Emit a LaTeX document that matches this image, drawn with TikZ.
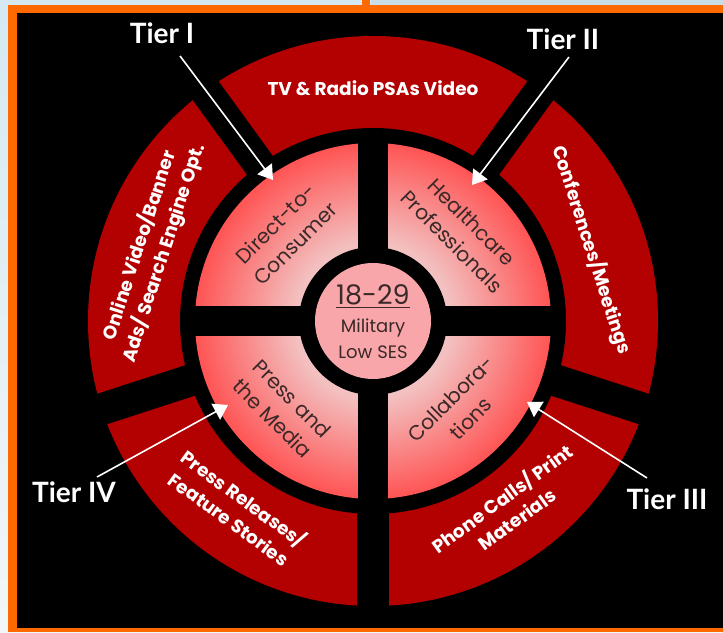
\documentclass[tikz,border=0pt]{standalone}
\usepackage{fontspec}
\setmainfont{Poppins}
\newfontfamily\tierfont{Lato}
\usetikzlibrary{arrows.meta}
\definecolor{ringred}{HTML}{B30000}
\definecolor{quadin}{HTML}{F4D2D2}
\definecolor{quadmid}{HTML}{F3C0C0}
\definecolor{quadout}{HTML}{FF5454}
\definecolor{centerpink}{HTML}{F8A6A9}
\definecolor{quadtext}{HTML}{3B2828}
\definecolor{frameorange}{HTML}{FF6A00}
\definecolor{bgtop}{HTML}{D4E9F2}
\definecolor{bgbot}{HTML}{F2F6F8}
\definecolor{bgright}{HTML}{C9DDE7}
\pgfdeclareradialshading{quadshade}{\pgfpoint{0bp}{0bp}}{color(0bp)=(quadin); color(11bp)=(quadmid); color(25bp)=(quadout); color(50bp)=(quadout)}
\tikzset{
  ringtext/.style={text=white, font=\bfseries\fontsize{18.5}{25.5}\selectfont, align=center, inner sep=0pt},
  quadtxt/.style={text=quadtext, font=\fontsize{20.5}{28}\selectfont, align=center, inner sep=0pt},
  centertxt/.style={text=quadtext, inner sep=0pt},
  tierlabel/.style={text=white, font=\tierfont\bfseries\fontsize{28}{30}\selectfont, inner sep=0pt},
  tierarrow/.style={draw=white, line width=1.6pt, -{Triangle[length=14pt,width=18pt]}},
}
\begin{document}
\begin{tikzpicture}[x=1pt,y=1pt]
\useasboundingbox (0,0) rectangle (723,632);
% page background and frame
\shade[top color=bgtop, bottom color=bgbot] (0,0) rectangle (723,632);
\fill[bgright] (371,627) rectangle (723,632);
\fill[frameorange] (8,0) rectangle (723,627);
\fill[frameorange] (362,627) rectangle (370,632);
\fill[black] (17,4) rectangle (723,619);
% wheel
\begin{scope}[shift={(373,311)}]
  \fill[ringred] (0,0) circle (285);
  \foreach \a in {54,126,198,270,342}{
    \fill[black, rotate=\a] (0,-16) rectangle (292,16);
  }
  \fill[black] (0,0) circle (193);
  \shade[shading=quadshade] (0,0) circle (178);
  \fill[black] (-15,-180) rectangle (15,180);
  \fill[black] (-180,-15) rectangle (180,15);
  \fill[black] (0,0) circle (74);
  \fill[centerpink] (0,0) circle (58);
  % outer ring texts
  \node[ringtext] (tv) at (90:233) {TV \& Radio PSAs Video};
  \node[ringtext, rotate=72] (online) at (162:233) {Online Video/Banner\\Ads/ Search Engine Opt.};
  \node[ringtext, rotate=-72] (conf) at (18:230) {Conferences/Meetings};
  \node[ringtext, rotate=36] (phone) at (306:231) {Phone Calls/ Print\\Materials};
  \node[ringtext, rotate=-36] (pressrel) at (234:231) {Press Releases/\\Feature Stories};
  % quadrant texts
  \node[quadtxt, rotate=45] (direct) at (135:124) {Direct-to-\\Consumer};
  \node[quadtxt, rotate=-45] (health) at (45:126) {Healthcare\\Professionals};
  \node[quadtxt, rotate=-45] (media) at (224:126) {Press and\\the Media};
  \node[quadtxt, rotate=45] (collab) at (315:124) {Collabora-\\tions};
  % centre
  \node[centertxt, anchor=base, font=\fontsize{27}{28}\selectfont] (age) at (0,16) {\underline{18-29}};
  \node[centertxt, font=\fontsize{18}{20}\selectfont] (mil) at (0,-7) {Military};
  \node[centertxt, font=\fontsize{18}{20}\selectfont] (ses) at (0,-31) {Low SES};
\end{scope}
% tier labels
\node[tierlabel] (t1) at (162,599) {Tier I};
\node[tierlabel] (t2) at (563,593) {Tier II};
\node[tierlabel] (t4) at (74,140) {Tier IV};
\node[tierlabel] (t3) at (667,133) {Tier III};
% arrow ends
\coordinate (a1s) at (180,576);
\coordinate (a1e) at (273,452);
\coordinate (a2s) at (569,575);
\coordinate (a2e) at (472,447);
\coordinate (a4s) at (97,155);
\coordinate (a4e) at (228,227);
\coordinate (a3s) at (647,154);
\coordinate (a3e) at (527,230);
\draw[tierarrow] (a1s) -- (a1e);
\draw[tierarrow] (a2s) -- (a2e);
\draw[tierarrow] (a4s) -- (a4e);
\draw[tierarrow] (a3s) -- (a3e);
\end{tikzpicture}
\end{document}
